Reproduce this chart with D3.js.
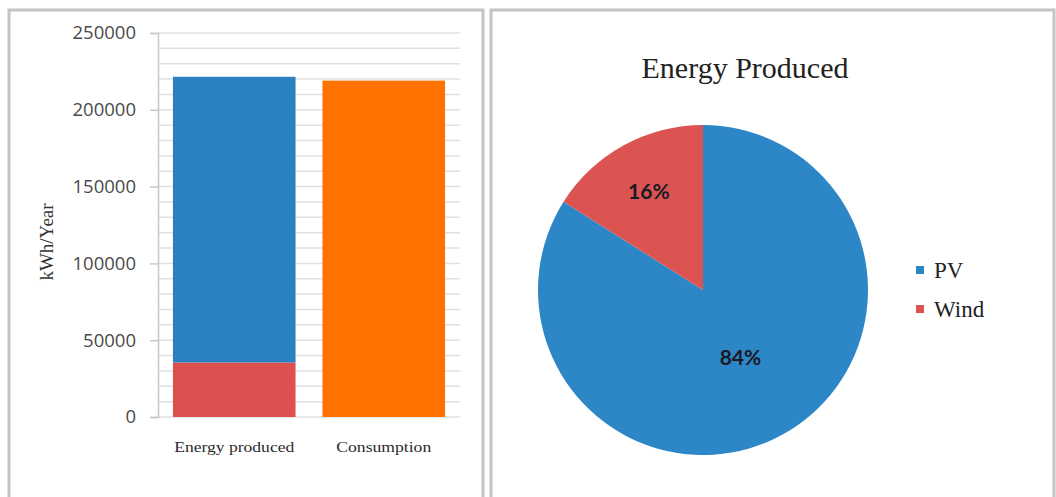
<!DOCTYPE html>
<html>
<head>
<meta charset="utf-8">
<script src="https://cdn.jsdelivr.net/npm/d3@7.9.0/dist/d3.min.js"></script>
<style>
  body { margin: 0; background: #fff; }
  svg { display: block; }
</style>
</head>
<body>
<div id="chart"></div>
<script>
// values (kWh/year)
const categories = ['Energy produced', 'Consumption'];
const sources = ['Wind', 'PV'];          // stack order, bottom first
const produced = { Wind: 35500, PV: 186000 };
const consumption = 219000;
const yTicks = [0, 50000, 100000, 150000, 200000, 250000];
const pieTitle = 'Energy Produced';
const legendItems = ['PV', 'Wind'];

const colors = { PV: '#2b80c2', Wind: '#dc5050', Consumption: '#ff7200' };
const pieColors = { PV: '#2d86c6', Wind: '#dc5452' };
// where the % label sits, as a fraction of the radius
const labelRadius = { PV: 0.47, Wind: 0.68 };

const width = 1056, height = 497;
const svg = d3.select('#chart').append('svg')
  .attr('width', width).attr('height', height);

// panel frames
svg.append('rect').attr('x', 9).attr('y', 10).attr('width', 474).attr('height', 500)
  .attr('fill', '#fff').attr('stroke', '#c4c4c4').attr('stroke-width', 3);
svg.append('rect').attr('x', 491).attr('y', 10).attr('width', 563).attr('height', 500)
  .attr('fill', '#fff').attr('stroke', '#c4c4c4').attr('stroke-width', 3);

// ---- left: stacked bar chart ----
const axisX = 158;
const y = d3.scaleLinear().domain([0, 250000]).range([417, 33]);
const x = d3.scaleBand().domain(categories).range([axisX, 460])
  .paddingInner(0.18).paddingOuter(0.1);

const grid = svg.append('g');
grid.selectAll('line')
  .data(d3.range(0, 250001, 10000))
  .join('line')
  .attr('x1', axisX).attr('x2', 460)
  .attr('y1', d => y(d)).attr('y2', d => y(d))
  .attr('stroke', '#e0e0e0').attr('stroke-width', 1.5);

const yAxis = svg.append('g')
  .attr('transform', `translate(${axisX},0)`)
  .call(d3.axisLeft(y).tickValues(yTicks).tickSize(8).tickPadding(14)
    .tickFormat(d3.format('d')));
yAxis.select('.domain').attr('stroke', '#c8c8c8').attr('stroke-width', 1.5);
yAxis.selectAll('.tick line').attr('stroke', '#c8c8c8').attr('stroke-width', 1.5);
yAxis.selectAll('.tick text')
  .attr('font-family', '"Open Sans", sans-serif').attr('font-size', 18.5)
  .attr('fill', '#4a4a4a');

const stack = d3.stack().keys(sources)([produced]);
svg.append('g').selectAll('rect')
  .data(stack)
  .join('rect')
  .attr('x', x('Energy produced'))
  .attr('width', x.bandwidth())
  .attr('y', d => y(d[0][1]))
  .attr('height', d => y(d[0][0]) - y(d[0][1]))
  .attr('fill', d => colors[d.key]);

svg.append('rect')
  .attr('x', x('Consumption'))
  .attr('width', x.bandwidth())
  .attr('y', y(consumption))
  .attr('height', y(0) - y(consumption))
  .attr('fill', colors.Consumption);

const catWidths = { 'Energy produced': 120, 'Consumption': 95 };
svg.append('g').selectAll('text')
  .data(categories)
  .join('text')
  .attr('x', d => x(d) + x.bandwidth() / 2 - catWidths[d] / 2)
  .attr('y', 452)
  .attr('textLength', d => catWidths[d])
  .attr('lengthAdjust', 'spacingAndGlyphs')
  .attr('font-family', '"Liberation Serif", serif').attr('font-size', 14)
  .attr('fill', '#2a2a2a')
  .text(d => d);

svg.append('text')
  .attr('transform', 'translate(53,242) rotate(-90)')
  .attr('text-anchor', 'middle')
  .attr('font-family', '"Liberation Serif", serif').attr('font-size', 19)
  .attr('fill', '#333')
  .text('kWh/Year');

// ---- right: pie chart ----
const cx = 703, cy = 290, r = 165;
const pieData = d3.pie().sort(null).value(d => produced[d])(['PV', 'Wind']);
const total = d3.sum(sources, s => produced[s]);
const arc = d3.arc().innerRadius(0).outerRadius(r);
const pieG = svg.append('g').attr('transform', `translate(${cx},${cy})`);
pieG.selectAll('path')
  .data(pieData)
  .join('path')
  .attr('d', arc)
  .attr('fill', d => pieColors[d.data]);

pieG.selectAll('text')
  .data(pieData)
  .join('text')
  .attr('transform', d => {
    const lr = r * labelRadius[d.data];
    const [lx, ly] = d3.arc().innerRadius(lr).outerRadius(lr).centroid(d);
    return `translate(${lx},${ly})`;
  })
  .attr('text-anchor', 'middle')
  .attr('dy', '0.35em')
  .attr('font-family', 'Lato, sans-serif').attr('font-weight', 'bold')
  .attr('font-size', 21)
  .attr('fill', '#1a1a26')
  .text(d => Math.round(produced[d.data] / total * 100) + '%');

svg.append('text')
  .attr('x', 745).attr('y', 78)
  .attr('text-anchor', 'middle')
  .attr('font-family', '"Liberation Serif", serif').attr('font-size', 30)
  .attr('fill', '#222')
  .text(pieTitle);

const legend = svg.append('g').selectAll('g')
  .data(legendItems)
  .join('g')
  .attr('transform', (d, i) => `translate(916,${270 + i * 39})`);
legend.append('rect')
  .attr('x', 0).attr('y', -4).attr('width', 8).attr('height', 8)
  .attr('fill', d => pieColors[d]);
legend.append('text')
  .attr('x', 18).attr('dy', '0.35em')
  .attr('font-family', '"Liberation Serif", serif').attr('font-size', 23)
  .attr('fill', '#222')
  .text(d => d);
</script>
</body>
</html>
